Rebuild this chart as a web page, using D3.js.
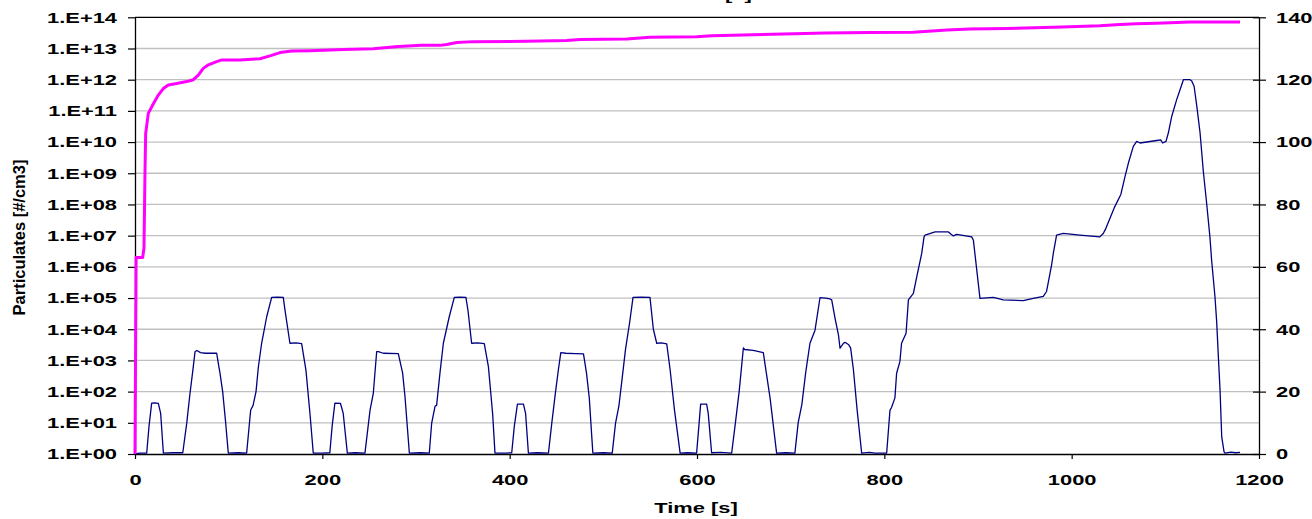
<!DOCTYPE html>
<html><head><meta charset="utf-8">
<script src="https://cdn.jsdelivr.net/npm/d3@7"></script>
<style>
html,body{margin:0;padding:0;background:#fff;overflow:hidden;}
svg{display:block;}
text{font-family:"Liberation Sans",Arial,sans-serif;font-weight:bold;fill:#000;}
</style></head>
<body>
<svg id="chart" width="1312" height="519"></svg>
<script>
// ---- data ----
const xTicks = [0, 200, 400, 600, 800, 1000, 1200];
const leftTicks = [1e0,1e1,1e2,1e3,1e4,1e5,1e6,1e7,1e8,1e9,1e10,1e11,1e12,1e13,1e14];
const rightTicks = [0, 20, 40, 60, 80, 100, 120, 140];
const xTitle = "Time [s]";
const yTitle = "Particulates [#/cm3]";

// speed trace (right axis) : time [s]
const speedTime = [
0,5,12.5,15,17.8,21,24.9,27.4,30.3,40,51,55.2,58.7,61.6,64.1,66,70,75,87.2,89,90.7,93.6,96.5,99.6,110,119.2,123.5,126,129.2,131.7,135.2,140.6,145.9,152,158.3,160.1,165.4,172,177.9,182.5,186.8,190.3,200,
208,210.5,213.4,219.4,222.3,226.7,235,245.5,250.9,254.4,258,259.8,265.1,281.1,285.7,288.2,292.9,305,314.2,316.7,320.3,322,325.6,329.2,335.5,340.9,347,353.3,355.5,359.4,366,372.9,377.3,381.8,384.3,395,
402.2,405,408.3,414.7,417,420,430,441.4,445,449,452,454.6,460,470,478.8,482,485,488.8,500,509.5,513,516.6,520,523.7,528,531.7,540,549.8,553.4,557,562,567.7,571.3,576,582,590,
599.6,602,603.9,610.3,612,615.6,625,637,641,645,649.5,651,660,670.8,674,678,685,695,704.5,708,712,716,720.6,726,731.3,737,742,743.8,747.4,751,752.7,756.3,758,762,764,767,771,775.8,
784,790,802.5,806,807.8,811.3,813.1,816.6,818.4,823.2,825.7,831,834.6,839.9,842.4,843.5,854.2,868.4,871,873.7,877.3,893.3,895.1,902.1,916.3,927,948.3,959,969.7,973.2,978.6,980.4,983.9,991,1008.8,1030.1,1033.7,1036,1045.4,1052.5,1057,1060.5,1065.8,1069.4,1073,1090.8,1095,1097.2,1100.7,1103.2,1106.8,1112.1,1115.7,1119.3,1126.4,1128.2,1130.7,1133.6,1137.1,1140.6,1144.1,1147.6,1149.4,1153,1154.8,1156.6,1158.4,1160.2,1162.7,1163.7,1170,1175,1179.7
];
// speed values [km/h]
const speedValue = [
0,0.3,0.3,9,16.3,16.4,16.2,13,0.3,0.4,0.4,9.8,19.4,26.4,32.8,33.2,32.5,32.3,32.3,29,26,20,11,0.3,0.4,0.3,14.1,15.5,20,27.9,35.5,44,50.2,50.3,50.2,46.2,35.5,35.6,35.4,26.9,13,0.3,0.3,
0.4,9,16.3,16.2,13,0.3,0.4,0.3,14,19.4,32.8,32.8,32.3,32.2,26,18.6,0.3,0.4,0.3,9.8,15.3,15.6,26,35.5,44,50.2,50.3,50.2,46,35.5,35.6,35.4,28,13,0.3,0.3,
0.4,9,16,16,13,0.3,0.4,0.3,10,20,27,32.5,32.3,32.2,32.1,26,18,0.3,0.4,0.3,9.8,15.4,24,33.6,42,50.2,50.3,50.2,40,35.5,35.6,35.3,27,14,0.3,0.4,
0.3,9,16,16,13,0.4,0.5,0.3,10,20,34,33.5,33.2,32.5,26,18,0.3,0.4,0.3,10,16,26,35.5,39.7,50.1,50,49.7,49.4,43.5,38.2,33.9,35.5,35.8,35,34,27,14,0.3,
0.5,0.3,0.3,14,15,18,25.9,29.6,35.5,38.7,49.4,51.5,56.8,64.3,69.6,70.2,71.2,71.2,70.5,69.9,70.4,69.6,68.5,49.9,50.2,49.4,49.2,49.9,50.5,52.1,60.6,64.3,70.2,70.7,70.2,69.6,70.7,72,78.9,83.2,89,93.2,98.6,100.2,99.7,100.5,100.7,99.7,100.2,102.9,108.2,113.6,116.8,120,120,119.6,117.9,111.5,102.9,90.5,80.4,69.6,62.2,50.4,42.5,31.3,20.5,5.5,0.7,0.3,0.6,0.4,0.5
];

// cumulative particulates (left log axis)
const partTime = [0,1.2,8.2,9.6,10.7,11.4,14.2,19.6,24.9,30.2,35.6,44.5,55.2,62.3,67.6,72.9,78.3,87.2,92.6,112.1,133.4,144.1,154.8,167.3,186.8,222.4,254.4,281.1,306,325.6,332.8,343.4,361.2,418.2,460.9,475.1,525,549.8,599.7,615.7,660.1,715.3,736.6,784.7,830.9,846.9,866.6,891.4,930.6,980.4,998.2,1030.2,1051.6,1069.4,1090.8,1126.3,1179.7];
const partValue = [1,2.0e6,2.0e6,4.0e6,1.3e9,1.9e10,8.3e10,1.7e11,3.2e11,5.2e11,6.8e11,7.6e11,8.7e11,1.0e12,1.4e12,2.3e12,3.0e12,3.8e12,4.3e12,4.3e12,4.7e12,5.8e12,7.4e12,8.3e12,8.5e12,9.3e12,9.8e12,1.15e13,1.26e13,1.26e13,1.35e13,1.55e13,1.66e13,1.70e13,1.82e13,1.95e13,2.0e13,2.3e13,2.4e13,2.57e13,2.75e13,3.0e13,3.16e13,3.24e13,3.3e13,3.6e13,3.9e13,4.2e13,4.4e13,4.8e13,5.0e13,5.4e13,5.9e13,6.2e13,6.5e13,7.1e13,7.1e13];

// ---- drawing ----
const svg = d3.select("#chart");
const L = 135, R = 1259, T = 17.3, B = 454;
const SX = 1.46; // horizontal stretch of the original lettering
const x = d3.scaleLinear().domain([0, 1200]).range([L, R]);
const yL = d3.scaleLog().domain([1, 1e14]).range([B, T]);
const yR = d3.scaleLinear().domain([0, 140]).range([B, T]);

// grid
svg.append("g").selectAll("line").data(leftTicks.slice(1, -1)).join("line")
  .attr("x1", L).attr("x2", R)
  .attr("y1", d => yL(d)).attr("y2", d => yL(d))
  .attr("stroke", "#c0c0c0").attr("stroke-width", 1.3);
// top border
svg.append("line").attr("x1", L).attr("x2", R).attr("y1", T).attr("y2", T)
  .attr("stroke", "#000").attr("stroke-width", 1.3);

function stretch(sel) {
  sel.selectAll(".tick text").each(function () {
    const t = d3.select(this);
    const xx = +t.attr("x") || 0;
    const yy = +t.attr("y") || 0;
    t.attr("x", 0).attr("y", 0).attr("transform", `translate(${xx},${yy}) scale(${SX},1)`);
  });
}
const expFmt = d => "1.E+" + String(Math.round(Math.log10(d))).padStart(2, "0");

const gL = svg.append("g").attr("transform", `translate(${L},0)`)
  .call(d3.axisLeft(yL).tickValues(leftTicks).tickFormat(expFmt).tickSize(7).tickSizeOuter(0).tickPadding(11));
const gR = svg.append("g").attr("transform", `translate(${R},0)`)
  .call(d3.axisRight(yR).tickValues(rightTicks).tickFormat(d3.format("d")).tickSize(7).tickSizeOuter(0).tickPadding(10));
gR.selectAll(".tick line").attr("x1", -6).attr("x2", 7);
const gB = svg.append("g").attr("transform", `translate(0,${B})`)
  .call(d3.axisBottom(x).tickValues(xTicks).tickFormat(d3.format("d")).tickSize(5).tickSizeOuter(0).tickPadding(15.3));

[gL, gR, gB].forEach(g => {
  g.select(".domain").attr("stroke", "#000").attr("stroke-width", 1.3);
  g.selectAll(".tick line").attr("stroke", "#000").attr("stroke-width", 1.2);
  g.selectAll(".tick text").attr("font-size", 15).attr("font-family", "Liberation Sans, Arial, sans-serif").attr("font-weight", "bold").attr("fill", "#000");
  stretch(g);
});

// speed line
const speedData = speedTime.map((t, i) => [t, speedValue[i]]);
svg.append("path").datum(speedData)
  .attr("fill", "none").attr("stroke", "#000080").attr("stroke-width", 1.3).attr("stroke-linejoin", "round")
  .attr("d", d3.line().x(d => x(d[0])).y(d => yR(d[1])));

// particulates line
const partData = partTime.map((t, i) => [t, partValue[i]]);
svg.append("path").datum(partData)
  .attr("fill", "none").attr("stroke", "#ff00ff").attr("stroke-width", 3).attr("stroke-linejoin", "round")
  .attr("d", d3.line().x(d => x(d[0])).y(d => yL(d[1])));

// titles
svg.append("text").attr("transform", `translate(696,513) scale(${SX},1)`)
  .attr("text-anchor", "middle").attr("font-size", 15).text(xTitle);
svg.append("text").attr("transform", `translate(710,0.3) scale(${SX},1)`)
  .attr("text-anchor", "middle").attr("font-size", 15).text(xTitle);
svg.append("text").attr("transform", "translate(24.5,237.5) rotate(-90)")
  .attr("text-anchor", "middle").attr("font-size", 16.5).text(yTitle);
</script>
</body></html>
